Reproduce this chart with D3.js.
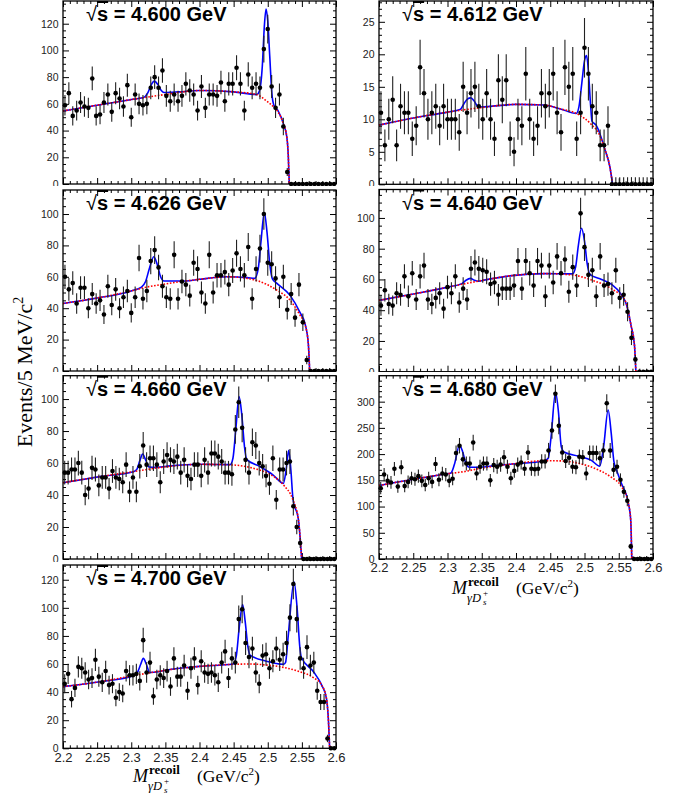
<!DOCTYPE html>
<html>
<head>
<meta charset="utf-8">
<script src="https://cdn.jsdelivr.net/npm/d3@7"></script>
<style>
  body { margin: 0; background: #fff; }
  svg { display: block; }
  .tick text { font-family: "Liberation Sans", Arial, Helvetica, sans-serif; fill: #222; }
</style>
</head>
<body>
<div id="chart"></div>
<script>
// ---------- data ----------
const energies = ["4.600", "4.612", "4.626", "4.640", "4.660", "4.680", "4.700"];
const nBins = [70, 70, 70, 70, 80, 80, 80];          // bins over 2.2 - 2.6 GeV
const yMax = [137, 28.2, 115.3, 118.5, 114.6, 349.5, 130.5];
const yMajorStep = [20, 5, 20, 20, 20, 50, 20];
const yMinorStep = [5, 1, 5, 5, 5, 10, 5];

// events per bin (bins past the listed ones are empty)
const counts4600 = [59,68,51,55,61,58,57,79,51,52, 61,67,54,68,64,58,74,50,67,60,
  59,60,72,80,72,85,66,62,67,62, 66,75,70,67,55,73,57,67,67,66, 76,62,75,75,87,75,55,82,72,75,
  72,101,116,73,57,67,43,9];
const counts4612 = [11,6,10,13,6,12,11,11,7,9, 18,14,10,11,12,9,12,10,10,10,
  8,15,11,14,15,12,10,14,10,7, 16,13,16,7,5,10,9,17,10,7, 9,14,12,14,17,11,8,18,15,17,
  7,11,21,17,12,11,6,6,9];
const counts4626 = [60,52,56,43,53,53,40,49,43,45, 36,54,42,52,40,47,51,37,47,72,
  46,51,70,77,66,54,47,46,74,46, 57,55,48,69,65,50,43,74,50,61, 61,63,55,64,75,65,61,79,46,65,
  78,100,69,68,59,47,60,39,49,34, 55,31,7];
const counts4640 = [43,53,44,43,51,50,62,49,64,47, 62,69,47,44,48,51,41,55,51,62,
  45,54,47,67,71,67,66,65,57,58, 50,54,54,54,56,72,54,72,64,56, 72,69,49,69,58,75,64,73,52,68,
  56,103,81,63,66,49,75,56,57,51, 66,48,50,39,22,8];
const counts4660 = [54,54,56,56,60,54,40,44,57,56, 46,51,51,44,55,51,50,48,59,42,
  51,42,58,71,59,63,63,59,48,61, 65,62,61,64,54,62,52,50,59,59, 52,62,54,66,66,64,61,54,54,53,
  81,98,82,62,54,73,71,60,58,52, 47,63,37,56,56,60,61,33,20,10];
const counts4680 = [135,161,149,146,172,138,175,139,147,154, 152,158,149,141,154,147,181,151,163,161,
  149,153,202,216,190,182,182,222,163,176, 182,182,150,179,176,180,194,176,154,168,
  180,184,172,203,172,171,172,186,186,207, 245,315,254,203,187,193,176,175,195,194,
  163,202,202,202,192,207,297,207,170,176, 151,128,111,24];
const counts4700 = [46,53,35,43,58,57,54,49,50,63, 51,47,55,45,46,36,40,39,55,52,
  52,53,48,77,54,61,37,49,52,50, 55,44,64,51,51,59,41,57,64,45, 62,54,53,54,52,47,61,69,50,64,
  61,92,99,75,65,71,54,46,66,67, 57,62,71,63,67,75,93,117,92,64, 57,72,59,61,41,33,33,7];

// background curve (red dotted), [mass, events]
const bg4600 = [[2.2,54.7],[2.25,59],[2.3,63.2],[2.35,67],[2.4,70],[2.45,69],[2.484,67],[2.496,63],
  [2.508,58],[2.515,54],[2.523,45],[2.528,35],[2.530,22],[2.5316,0]];
const bg4612 = [[2.2,9.1],[2.25,10.2],[2.3,11.1],[2.35,11.8],[2.4,12.3],[2.44,12.2],[2.465,11.6],
  [2.49,10.8],[2.51,9.2],[2.522,7.6],[2.53,5.3],[2.537,2.7],[2.541,0]];
const bg4626 = [[2.2,43],[2.25,46.5],[2.3,51],[2.318,53],[2.35,55.5],[2.4,58.4],[2.44,60],[2.47,59],
  [2.485,57.5],[2.513,51.6],[2.533,45],[2.547,35.7],[2.555,29],[2.5595,17],[2.5614,0]];
const bg4640 = [[2.2,46.4],[2.25,50.5],[2.3,55],[2.316,56.4],[2.355,59.7],[2.394,62.5],[2.442,63.8],
  [2.481,63],[2.51,59.7],[2.539,54],[2.559,46.6],[2.568,30],[2.573,17],[2.575,0]];
const bg4660 = [[2.2,47.7],[2.254,51.5],[2.303,54.6],[2.352,57.7],[2.4,59.2],[2.45,58.75],[2.479,56.7],
  [2.503,53],[2.523,46.3],[2.537,36.9],[2.545,24.4],[2.5497,0]];
const bg4680 = [[2.2,140],[2.25,152],[2.297,162],[2.326,167],[2.345,172],[2.37,177],[2.394,181],
  [2.442,187.5],[2.466,187],[2.491,182.5],[2.52,170],[2.539,156],[2.554,138],[2.5636,109],[2.5675,74],[2.569,0]];
const bg4700 = [[2.2,43.9],[2.254,47.4],[2.303,51.7],[2.352,55.7],[2.4,58.3],[2.45,59.8],[2.474,60],
  [2.498,59.3],[2.523,57.6],[2.547,54.5],[2.567,50.3],[2.579,45],[2.586,35.6],[2.589,19],[2.5907,0]];

// total fit (blue solid), [mass, events]
const fit4600 = [[2.2,54.7],[2.25,59],[2.3,63.2],[2.318,64.7],[2.324,68],[2.329,74],[2.3338,77],
  [2.339,74.5],[2.344,70],[2.348,68.5],[2.37,69],[2.4,70],[2.45,69],[2.484,67],[2.488,70],[2.492,88],
  [2.495,118],[2.4975,131],[2.5,122],[2.503,95],[2.506,68],[2.509,59],[2.515,55],[2.523,45],
  [2.528,35],[2.530,22],[2.5316,0]];
const fit4612 = [[2.2,9.1],[2.25,10.2],[2.3,11.1],[2.3185,11.5],[2.324,12.4],[2.329,13.1],[2.334,13.3],
  [2.339,12.8],[2.344,12],[2.348,11.9],[2.4,12.3],[2.44,12.2],[2.465,11.6],[2.488,10.9],[2.492,12],
  [2.496,15.5],[2.5,19],[2.503,19.8],[2.506,17],[2.509,12],[2.511,9.7],[2.517,9.1],[2.53,5.3],
  [2.537,2.7],[2.541,0]];
const fit4626 = [[2.2,43],[2.25,46.5],[2.3,51],[2.315,53.5],[2.321,57],[2.327,66],[2.333,72.8],
  [2.338,68],[2.343,60],[2.348,57.3],[2.38,57.3],[2.4,58.4],[2.44,60],[2.47,59.5],[2.481,59],
  [2.486,65],[2.49,82],[2.495,101],[2.499,88],[2.503,68],[2.507,58.5],[2.513,56],[2.533,48],
  [2.547,37.5],[2.555,29.5],[2.5595,17],[2.5614,0]];
const fit4640 = [[2.2,46.4],[2.25,50.5],[2.3,55],[2.321,57.3],[2.327,59.5],[2.3335,60.7],[2.339,59.5],
  [2.345,58.8],[2.355,59.7],[2.394,62.5],[2.442,63.8],[2.4825,63.6],[2.487,68],[2.491,82],
  [2.4956,93.3],[2.5,85],[2.504,70],[2.508,63.3],[2.525,60],[2.539,57],[2.554,50],[2.561,44],
  [2.568,30],[2.573,17],[2.575,0]];
const fit4660 = [[2.2,47.7],[2.254,51.5],[2.303,54.6],[2.308,56],[2.313,62],[2.3167,65.6],[2.321,62],
  [2.326,57.5],[2.335,57.3],[2.352,58],[2.4,59.2],[2.445,59],[2.449,63],[2.453,80],[2.458,101.5],
  [2.462,90],[2.466,70],[2.469,62.3],[2.489,57.7],[2.508,52.5],[2.523,47.3],[2.527,56],[2.5307,68],
  [2.534,55],[2.537,37.5],[2.545,24.4],[2.5497,0]];
const fit4680 = [[2.2,140],[2.25,152],[2.297,162],[2.305,164],[2.31,180],[2.3175,217],[2.322,205],
  [2.327,182],[2.332,175],[2.345,175],[2.37,178],[2.394,181],[2.442,187.5],[2.447,192],[2.451,230],
  [2.4577,318],[2.462,280],[2.466,215],[2.47,204],[2.491,196],[2.51,188],[2.5223,177],[2.528,215],
  [2.5345,284],[2.539,240],[2.543,185],[2.548,165],[2.554,144],[2.5636,109],[2.5675,74],[2.569,0]];
const fit4700 = [[2.2,43.9],[2.254,47.4],[2.303,51.7],[2.309,54],[2.314,60],[2.3177,64],[2.322,60],
  [2.327,54],[2.34,54.5],[2.352,55.7],[2.4,58.3],[2.4495,60],[2.454,66],[2.458,85],[2.4632,102.4],
  [2.467,90],[2.471,72],[2.474,66.4],[2.498,62],[2.523,59.8],[2.526,61],[2.53,80],[2.5385,118.6],
  [2.543,100],[2.547,72],[2.549,65],[2.567,54.5],[2.579,45],[2.586,35.6],[2.589,19],[2.5907,0]];

const countsList = [counts4600, counts4612, counts4626, counts4640, counts4660, counts4680, counts4700];
const bgList = [bg4600, bg4612, bg4626, bg4640, bg4660, bg4680, bg4700];
const fitList = [fit4600, fit4612, fit4626, fit4640, fit4660, fit4680, fit4700];

// ---------- layout (pixels) ----------
const W = 689, H = 796;
const frames = [
  { x0: 63,  x1: 336, y0: 1,     y1: 184,   pad: [0, 0, 345, 186] },
  { x0: 379, x1: 653, y0: 1,     y1: 184.3, pad: [345, 0, 344, 186] },
  { x0: 63,  x1: 336, y0: 190,   y1: 371,   pad: [0, 186, 345, 186] },
  { x0: 379, x1: 653, y0: 189.5, y1: 371.7, pad: [345, 186, 344, 186] },
  { x0: 63,  x1: 336, y0: 375.7, y1: 559,   pad: [0, 372, 345, 190] },
  { x0: 379, x1: 653, y0: 375.7, y1: 559,   pad: [345, 372, 344, 424], xLabels: true, xTitle: [452, 594] },
  { x0: 63,  x1: 336, y0: 565,   y1: 748.3, pad: [0, 562, 345, 234], xLabels: true, xTitle: [133, 782] }
];

const sansFont = '"Liberation Sans", Arial, Helvetica, sans-serif';
const serifFont = '"Liberation Serif", "Times New Roman", Times, serif';

const svg = d3.select("#chart").append("svg")
  .attr("width", W)
  .attr("height", H);

svg.append("rect").attr("width", W).attr("height", H).attr("fill", "#fff");

const panels = energies.map((e, i) => ({
  energy: e,
  counts: countsList[i],
  bg: bgList[i],
  fit: fitList[i],
  nBins: nBins[i],
  yMax: yMax[i],
  major: yMajorStep[i],
  minor: yMinorStep[i]
}));

// ---------- one panel ----------
const drawPanel = (p, f) => {
  // white pad, covers the overflow of the pad above (like ROOT sub-pads)
  svg.append("rect")
    .attr("x", f.pad[0]).attr("y", f.pad[1])
    .attr("width", f.pad[2]).attr("height", f.pad[3])
    .attr("fill", "#fff");

  const w = f.x1 - f.x0, h = f.y1 - f.y0;
  const g = svg.append("g").attr("transform", `translate(${f.x0},${f.y0})`);

  const x = d3.scaleLinear().domain([2.2, 2.6]).range([0, w]);
  const y = d3.scaleLinear().domain([0, p.yMax]).range([h, 0]);

  // ticks
  const yMajors = d3.range(0, p.yMax + 1e-6, p.major);
  const yMinors = d3.range(0, p.yMax, p.minor).filter(v => Math.abs(v / p.major - Math.round(v / p.major)) > 1e-6);
  const xMajors = d3.range(0, 9).map(k => 2.2 + k * 0.05);
  const xMinors = d3.range(0, 41).map(k => 2.2 + k * 0.01).filter((v, k) => k % 5 !== 0);

  const addAxis = (axis, tx, ty, labels) => {
    const a = g.append("g").attr("transform", `translate(${tx},${ty})`).call(axis);
    a.select(".domain").remove();
    a.selectAll(".tick line").attr("stroke", "#000").attr("stroke-width", 1);
    if (!labels) a.selectAll(".tick text").remove();
    return a;
  };

  // left (labelled) and right ticks, pointing inward
  const yLab = addAxis(d3.axisLeft(y).tickValues(yMajors).tickSizeInner(-6).tickSizeOuter(0)
    .tickPadding(4.5).tickFormat(d3.format("d")), 0, 0, true);
  yLab.selectAll(".tick text").attr("font-size", 10.5).attr("font-family", sansFont);
  addAxis(d3.axisLeft(y).tickValues(yMinors).tickSizeInner(-3).tickSizeOuter(0), 0, 0, false);
  addAxis(d3.axisLeft(y).tickValues(yMajors).tickSizeInner(6).tickSizeOuter(0), w, 0, false);
  addAxis(d3.axisLeft(y).tickValues(yMinors).tickSizeInner(3).tickSizeOuter(0), w, 0, false);

  // bottom and top ticks
  const xLab = addAxis(d3.axisBottom(x).tickValues(xMajors).tickSizeInner(-6).tickSizeOuter(0)
    .tickPadding(4).tickFormat(d => String(+d.toFixed(2))), 0, h, !!f.xLabels);
  xLab.selectAll(".tick text").attr("font-size", 13).attr("font-family", sansFont);
  addAxis(d3.axisBottom(x).tickValues(xMinors).tickSizeInner(-3).tickSizeOuter(0), 0, h, false);
  addAxis(d3.axisBottom(x).tickValues(xMajors).tickSizeInner(6).tickSizeOuter(0), 0, 0, false);
  addAxis(d3.axisBottom(x).tickValues(xMinors).tickSizeInner(3).tickSizeOuter(0), 0, 0, false);

  // curves
  const line = d3.line()
    .x(d => x(d[0]))
    .y(d => y(d[1]))
    .curve(d3.curveMonotoneX);

  g.append("path")
    .datum(p.fit)
    .attr("d", line)
    .attr("fill", "none")
    .attr("stroke", "#0000ff")
    .attr("stroke-width", 1.6);

  g.append("path")
    .datum(p.bg)
    .attr("d", line)
    .attr("fill", "none")
    .attr("stroke", "#ff0000")
    .attr("stroke-width", 1.6)
    .attr("stroke-dasharray", "1.6,1.6");

  // data points with error bars
  const binW = 0.4 / p.nBins;
  const bins = d3.range(p.nBins).map(i => {
    const n = i < p.counts.length ? p.counts[i] : 0;
    return { m: 2.2 + (i + 0.5) * binW, n: n, err: n > 0 ? Math.sqrt(n) : 1.1 };
  });

  g.selectAll("line.err")
    .data(bins)
    .join("line")
    .attr("class", "err")
    .attr("x1", d => x(d.m)).attr("x2", d => x(d.m))
    .attr("y1", d => y(Math.max(0, d.n - d.err)))
    .attr("y2", d => y(d.n + d.err))
    .attr("stroke", "#222")
    .attr("stroke-width", 1.1);

  g.selectAll("circle.pt")
    .data(bins)
    .join("circle")
    .attr("class", "pt")
    .attr("cx", d => x(d.m))
    .attr("cy", d => y(d.n))
    .attr("r", 2.3)
    .attr("fill", "#000");

  // frame
  g.append("rect")
    .attr("width", w).attr("height", h)
    .attr("fill", "none")
    .attr("stroke", "#000")
    .attr("stroke-width", 1.3);

  // energy label
  const t = g.append("text")
    .attr("x", 23).attr("y", 20)
    .attr("font-family", sansFont)
    .attr("font-size", 20)
    .attr("fill", "#000");
  t.append("tspan").attr("font-weight", "normal").text("\u221A");
  t.append("tspan").attr("font-weight", "bold").attr("text-decoration", "overline").text("s");
  t.append("tspan").attr("font-weight", "bold").text(` = ${p.energy} GeV`);

  if (f.xTitle) drawXTitle(f.xTitle[0], f.xTitle[1]);
};

// M^{recoil}_{gamma D_s^+}  (GeV/c^2)
const drawXTitle = (xm, yb) => {
  const a = svg.append("g").attr("font-family", serifFont).attr("fill", "#000");
  a.append("text").attr("x", xm).attr("y", yb).attr("font-size", 18).attr("font-style", "italic").text("M");
  a.append("text").attr("x", xm + 16).attr("y", yb - 8).attr("font-size", 13).attr("font-weight", "bold").text("recoil");
  a.append("text").attr("x", xm + 15).attr("y", yb + 8).attr("font-size", 12.5).attr("font-style", "italic").text("\u03B3D");
  a.append("text").attr("x", xm + 31).attr("y", yb + 11).attr("font-size", 9).attr("font-style", "italic").text("s");
  a.append("text").attr("x", xm + 31).attr("y", yb + 2).attr("font-size", 9).text("+");
  const u = a.append("text").attr("x", xm + 64).attr("y", yb).attr("font-size", 17.5);
  u.append("tspan").text("(GeV/c");
  u.append("tspan").attr("font-size", 11).attr("dy", -7).text("2");
  u.append("tspan").attr("dy", 7).text(")");
};

panels.forEach((p, i) => drawPanel(p, frames[i]));

// y-axis title
const yt = svg.append("text")
  .attr("transform", "translate(32,372) rotate(-90)")
  .attr("text-anchor", "middle")
  .attr("font-family", serifFont)
  .attr("font-size", 22)
  .attr("fill", "#000");
yt.append("tspan").text("Events/5 MeV/c");
yt.append("tspan").attr("font-size", 14).attr("dy", -9).text("2");
</script>
</body>
</html>
